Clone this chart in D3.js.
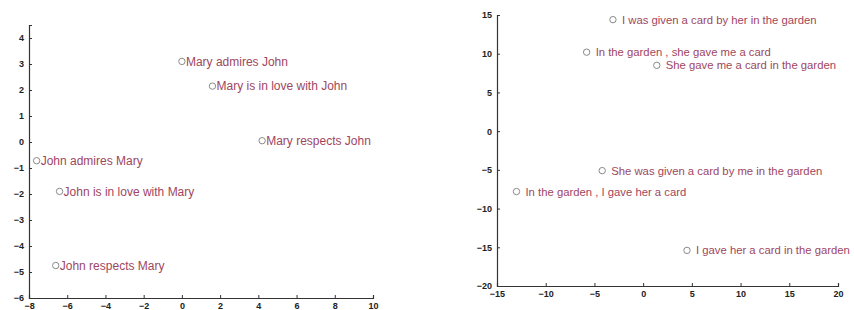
<!DOCTYPE html>
<html><head><meta charset="utf-8">
<script src="https://cdn.jsdelivr.net/npm/d3@7/dist/d3.min.js"></script>
<style>
body{margin:0;background:#fff;}
svg text{font-family:Arial,"Liberation Sans",sans-serif;}
.tick text{font-size:9px;font-weight:bold;fill:#222;}
.domain,.tick line{stroke:#333;}
</style></head>
<body><svg id="c" width="854" height="310"></svg>
<script>
// Left panel: actor/object swaps
const leftLabels = ["Mary admires John","Mary is in love with John","Mary respects John","John admires Mary","John is in love with Mary","John respects Mary"];
const leftX = [0, 1.6, 4.2, -7.6, -6.4, -6.6];
const leftY = [3.1, 2.15, 0.05, -0.72, -1.9, -4.75];
const leftXTicks = [-8,-6,-4,-2,0,2,4,6,8,10];
const leftYTicks = [-6,-5,-4,-3,-2,-1,0,1,2,3,4];

// Right panel: paraphrases
const rightLabels = ["I was given a card by her in the garden","In the garden , she gave me a card","She gave me a card in the garden","She was given a card by me in the garden","In the garden , I gave her a card","I gave her a card in the garden"];
const rightX = [-3.1, -5.8, 1.4, -4.2, -13, 4.5];
const rightY = [14.4, 10.2, 8.5, -5.1, -7.8, -15.4];
const rightXTicks = [-15,-10,-5,0,5,10,15,20];
const rightYTicks = [-20,-15,-10,-5,0,5,10,15];

const svg = d3.select("#c");
const labelColor = "#9e4660";

function panel(cfg){
  const x = d3.scaleLinear().domain(cfg.xd).range(cfg.xr);
  const y = d3.scaleLinear().domain(cfg.yd).range(cfg.yr);
  const g = svg.append("g");
  const xa = g.append("g").attr("transform",`translate(0,${cfg.yr[0]})`)
    .call(d3.axisBottom(x).tickValues(cfg.xt).tickSize(-3).tickPadding(5).tickFormat(d3.format("d")));
  const ya = g.append("g").attr("transform",`translate(${cfg.xr[0]},0)`)
    .call(d3.axisLeft(y).tickValues(cfg.yt).tickSize(-3).tickPadding(5).tickFormat(d3.format("d")));
  [xa,ya].forEach(a=>{a.select(".domain").attr("stroke-width",1.2);});
  const pts = g.selectAll(".pt").data(cfg.labels.map((l,i)=>({l,x:cfg.xs[i],y:cfg.ys[i]})))
    .enter().append("g").attr("transform",d=>`translate(${x(d.x)},${y(d.y)})`);
  pts.append("circle").attr("r",3.2).attr("fill","none").attr("stroke","#8a8a8a").attr("stroke-width",1);
  pts.append("text").attr("x",cfg.dx).attr("dy","0.36em").attr("font-size",cfg.fs)
    .attr("fill",labelColor).text(d=>d.l);
}

panel({xd:[-8,10], xr:[29,373], yd:[-6,4.5], yr:[298,25], xt:leftXTicks, yt:leftYTicks,
  labels:leftLabels, xs:leftX, ys:leftY, dx:4, fs:"12px"});
panel({xd:[-15,20], xr:[497,838], yd:[-20,15], yr:[286,15], xt:rightXTicks, yt:rightYTicks,
  labels:rightLabels, xs:rightX, ys:rightY, dx:9, fs:"11.3px"});
</script></body></html>
